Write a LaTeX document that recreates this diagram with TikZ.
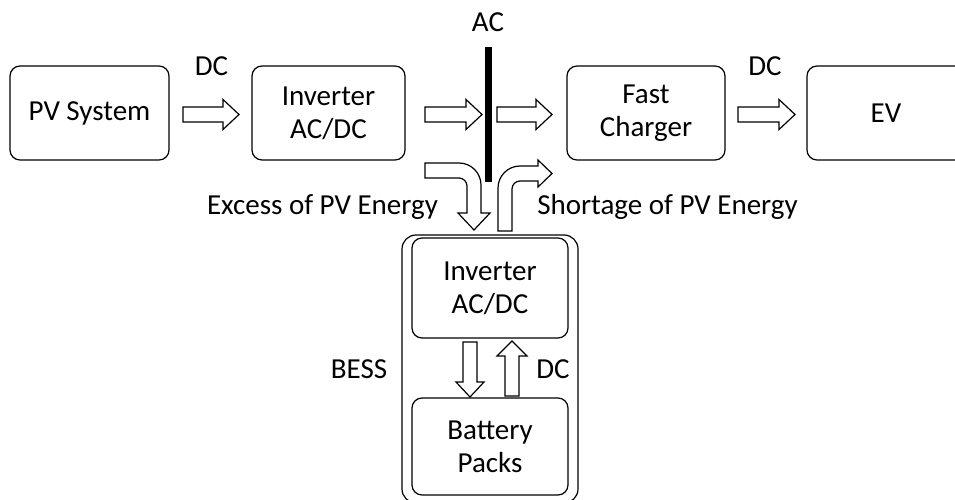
\documentclass[tikz,border=0pt]{standalone}
\usepackage{fontspec}
\setmainfont{Carlito}
\newcommand\dfont{\fontsize{29}{33}\selectfont}
\newcommand\harr[3]{% x tail, x tip, y centre
  \draw[blk] (#1,#3-7.5) -- (#2-16,#3-7.5) -- (#2-16,#3-15) -- (#2,#3)
    -- (#2-16,#3+15) -- (#2-16,#3+7.5) -- (#1,#3+7.5) -- cycle;}
\begin{document}
\begin{tikzpicture}[x=1pt,y=-1pt,
  box/.style={draw, line width=1.2pt, rounded corners=10pt, fill=white,
    align=center, inner sep=0pt, font=\dfont},
  blk/.style={draw, line width=1.2pt, fill=white, line join=miter},
  lbl/.style={font=\dfont, inner sep=0pt, anchor=base}]
\clip (0,0) rectangle (955,500);
\fill[white] (0,0) rectangle (955,500);

% main row
\node[box, minimum width=159pt, minimum height=94pt] (pv) at (89.5,113) {PV System};
\node[box, minimum width=153pt, minimum height=94pt] (inv) at (328.5,113) {Inverter\\AC/DC};
\node[box, minimum width=158pt, minimum height=94pt] (fc) at (646,113) {Fast\\Charger};
\node[box, minimum width=158pt, minimum height=94pt] (ev) at (886,113) {EV};

% AC bus
\fill (485,47) rectangle (492,182);
\node[lbl] (ac) at (488,32) {AC};

% straight block arrows
\harr{183}{239}{114.5}
\harr{425}{482}{114.5}
\harr{497}{552}{114.5}
\harr{738}{795}{114.5}
\node[lbl] (dc1) at (211.5,76) {DC};
\node[lbl] (dc2) at (765,76) {DC};

% BESS
\node[draw, line width=1.2pt, rounded corners=14pt, minimum width=176pt,
  minimum height=268pt] (bess) at (490,369) {};
\node[box, minimum width=156pt, minimum height=100pt] (binv) at (490,288) {Inverter\\AC/DC};
\node[box, minimum width=156pt, minimum height=97pt] (bat) at (490,446.5) {Battery\\Packs};
\node[lbl] (besslbl) at (359,378) {BESS};
\node[lbl] (dc3) at (553,378) {DC};

% down arrow (inverter -> battery)
\draw[blk] (463,342) -- (463,382) -- (456,382) -- (470,397) -- (484,382)
  -- (477,382) -- (477,342) -- cycle;
% up arrow (battery -> inverter)
\draw[blk] (505,396) -- (505,356) -- (497,356) -- (512,341) -- (527,356)
  -- (519,356) -- (519,396) -- cycle;

% excess of PV energy (curved, into BESS)
\draw[blk] (425,163) -- (459,163) .. controls (471.15,163) and (481,172.85) .. (481,185)
  -- (481,213) -- (490,213) -- (474,230) -- (458,213) -- (467,213) -- (467,186)
  .. controls (467,181.6) and (463.4,178) .. (459,178) -- (425,178) -- cycle;
\node[lbl] (exc) at (322.5,214) {Excess of PV Energy};

% shortage of PV energy (curved, out of BESS)
\draw[blk] (498,231) -- (498,188) .. controls (498,175.85) and (507.85,166) .. (520,166)
  -- (538,166) -- (538,160) -- (552,173.5) -- (538,187) -- (538,181) -- (520,181)
  .. controls (515.6,181) and (512,184.6) .. (512,189) -- (512,231) -- cycle;
\node[lbl] (sho) at (667.5,214) {Shortage of PV Energy};
\end{tikzpicture}
\end{document}
